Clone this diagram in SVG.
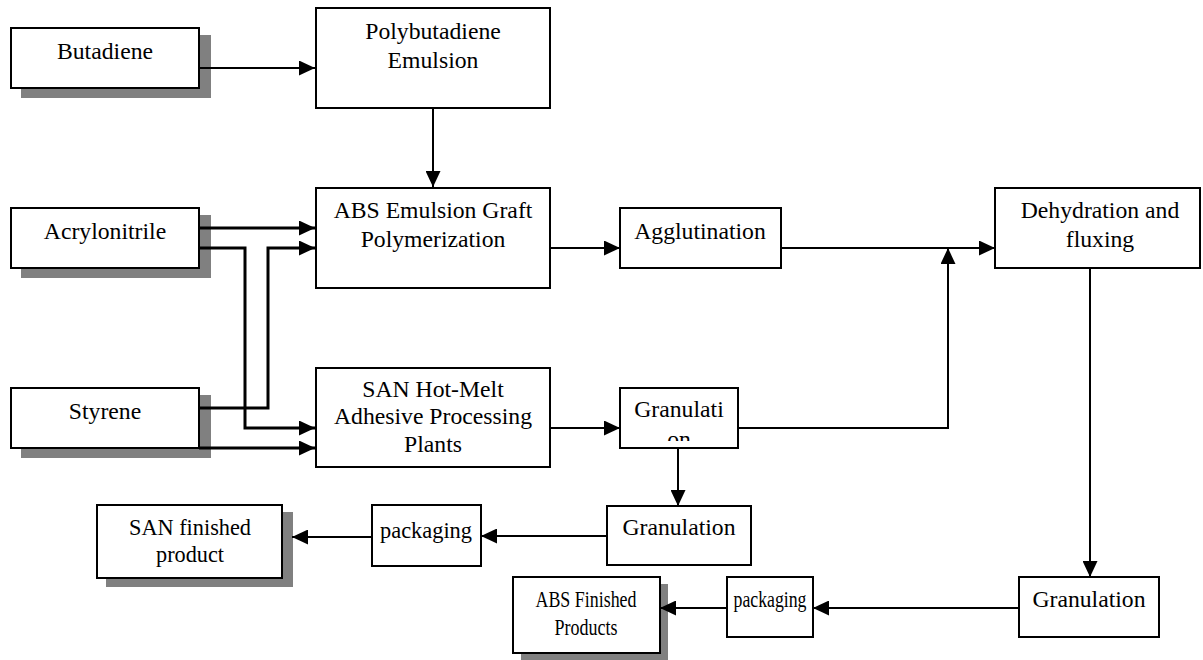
<svg xmlns="http://www.w3.org/2000/svg" width="1203" height="660" viewBox="0 0 1203 660">
<style>
.box{fill:#fff;stroke:#000;stroke-width:2}
.sh{fill:#808080}
text{font-family:'Liberation Serif',serif;font-size:23.7px;fill:#000;text-anchor:middle}
.ln{fill:none;stroke:#000;stroke-width:2}
.thk{fill:none;stroke:#000;stroke-width:3}
</style>
<defs>
<marker id="ah" markerUnits="userSpaceOnUse" markerWidth="16" markerHeight="15" refX="16" refY="7.5" orient="auto">
<path d="M0,0 L16,7.5 L0,15 z" fill="#000"/>
</marker>
<clipPath id="gclip"><rect x="620" y="388" width="118" height="53"/></clipPath>
</defs>
<rect width="1203" height="660" fill="#fff"/>

<g id="butadiene">
<rect class="sh" x="21" y="35" width="190" height="63"/>
<rect class="box" x="11" y="28" width="188" height="60"/>
<text x="105" y="59">Butadiene</text>
</g>
<g id="polybutadiene">
<rect class="box" x="316" y="8" width="234" height="100"/>
<text x="433" y="39">Polybutadiene</text>
<text x="433" y="68">Emulsion</text>
</g>
<g id="acrylonitrile">
<rect class="sh" x="21" y="215" width="190" height="63"/>
<rect class="box" x="11" y="208" width="188" height="60"/>
<text x="105" y="239">Acrylonitrile</text>
</g>
<g id="styrene">
<rect class="sh" x="21" y="395" width="190" height="63"/>
<rect class="box" x="11" y="388" width="188" height="60"/>
<text x="105" y="419">Styrene</text>
</g>
<g id="abs-graft">
<rect class="box" x="316" y="188" width="234" height="100"/>
<text x="433" y="218">ABS Emulsion Graft</text>
<text x="433" y="247">Polymerization</text>
</g>
<g id="san-hotmelt">
<rect class="box" x="316" y="368" width="234" height="99"/>
<text x="433" y="397">SAN Hot-Melt</text>
<text x="433" y="424">Adhesive Processing</text>
<text x="433" y="452">Plants</text>
</g>
<g id="agglutination">
<rect class="box" x="620" y="208" width="161" height="60"/>
<text x="700" y="239">Agglutination</text>
</g>
<g id="granulati">
<rect class="box" x="620" y="388" width="118" height="60"/>
<g clip-path="url(#gclip)">
<text x="679" y="417">Granulati</text>
<text x="679" y="447">on</text>
</g>
</g>
<g id="dehydration">
<rect class="box" x="995" y="188" width="205" height="80"/>
<text x="1100" y="218">Dehydration and</text>
<text x="1100" y="247">fluxing</text>
</g>
<g id="granulation-mid">
<rect class="box" x="607" y="506" width="144" height="59"/>
<text x="679" y="535">Granulation</text>
</g>
<g id="packaging-mid">
<rect class="box" x="372" y="505" width="109" height="61"/>
<text x="426" y="538" textLength="92" lengthAdjust="spacingAndGlyphs">packaging</text>
</g>
<g id="san-finished">
<rect class="sh" x="106" y="512" width="187" height="75"/>
<rect class="box" x="97" y="505" width="185" height="73"/>
<text x="190" y="535" textLength="122" lengthAdjust="spacingAndGlyphs">SAN finished</text>
<text x="190" y="562" textLength="68" lengthAdjust="spacingAndGlyphs">product</text>
</g>
<g id="granulation-bottom">
<rect class="box" x="1019" y="577" width="140" height="60"/>
<text x="1089" y="607">Granulation</text>
</g>
<g id="packaging-bottom">
<rect class="box" x="727" y="577" width="86" height="60"/>
<text x="770" y="607" textLength="73" lengthAdjust="spacingAndGlyphs">packaging</text>
</g>
<g id="abs-finished">
<rect class="sh" x="521" y="584" width="147" height="76"/>
<rect class="box" x="513" y="577" width="147" height="76"/>
<text x="586" y="607" textLength="101" lengthAdjust="spacingAndGlyphs">ABS Finished</text>
<text x="586" y="635" textLength="63" lengthAdjust="spacingAndGlyphs">Products</text>
</g>

<g id="connectors">
<path class="ln" d="M199,68 H315" marker-end="url(#ah)"/>
<path class="ln" d="M433,108 V187" marker-end="url(#ah)"/>
<path class="thk" d="M199,228 H315" marker-end="url(#ah)"/>
<path class="thk" d="M199,248 H245 V428 H315" marker-end="url(#ah)"/>
<path class="thk" d="M199,408 H268 V248 H315" marker-end="url(#ah)"/>
<path class="thk" d="M199,448 H315" marker-end="url(#ah)"/>
<path class="ln" d="M550,248 H620" marker-end="url(#ah)"/>
<path class="ln" d="M550,428 H620" marker-end="url(#ah)"/>
<path class="ln" d="M781,248 H995" marker-end="url(#ah)"/>
<path class="ln" d="M738,428 H948 V248" marker-end="url(#ah)"/>
<path class="ln" d="M1090,268 V577" marker-end="url(#ah)"/>
<path class="ln" d="M678,448 V506" marker-end="url(#ah)"/>
<path class="ln" d="M607,536 H481" marker-end="url(#ah)"/>
<path class="ln" d="M372,537 H292" marker-end="url(#ah)"/>
<path class="ln" d="M1019,608 H813" marker-end="url(#ah)"/>
<path class="ln" d="M727,608 H660" marker-end="url(#ah)"/>
</g>
</svg>
